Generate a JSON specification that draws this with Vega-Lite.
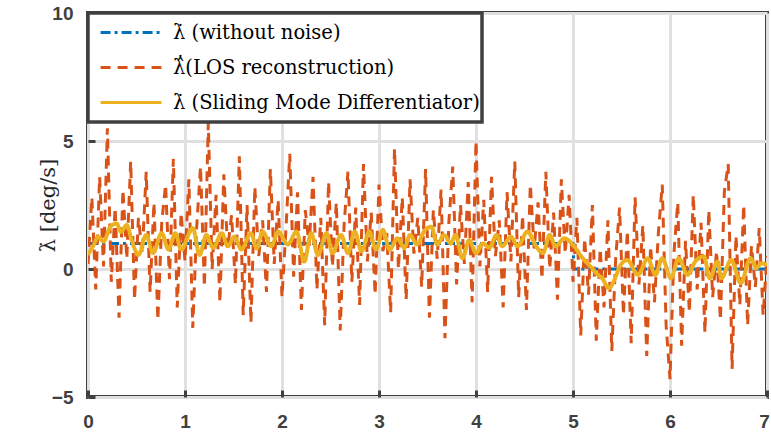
{
  "$schema": "https://vega.github.io/schema/vega-lite/v6.json",
  "width": 679,
  "height": 384,
  "autosize": "none",
  "padding": {"left": 88, "top": 13, "right": 4, "bottom": 42},
  "background": "white",
  "config": {
    "view": {"stroke": "#404040", "strokeWidth": 4},
    "axis": {
      "labelFont": "Liberation Sans",
      "labelFontWeight": "bold",
      "labelFontSize": 19,
      "labelColor": "#404040",
      "domain": false,
      "gridColor": "#e0e0e0",
      "gridWidth": 3,
      "gridOpacity": 1,
      "tickColor": "#404040",
      "tickWidth": 3,
      "tickSize": -7
    },
    "legend": {
      "orient": "top-left",
      "offset": 0,
      "labelFont": "DejaVu Serif",
      "labelFontSize": 19.5,
      "labelColor": "#000000",
      "labelLimit": 600,
      "symbolType": "stroke",
      "symbolSize": 3700,
      "symbolStrokeWidth": 3,
      "symbolOffset": 9,
      "clipHeight": 35,
      "strokeColor": "#404040",
      "strokeWidth": 3.5,
      "fillColor": "white",
      "padding": 2,
      "rowPadding": 0,
      "labelOffset": 10
    }
  },
  "datasets": {
    "blue": [{"t": 0, "v": 1}, {"t": 5.0, "v": 1}, {"t": 5.01, "v": 0}, {"t": 7, "v": 0}],
    "orange": [
      {"t":0,"v":0.2},{"t":0.04,"v":2.8},{"t":0.08,"v":-0.8},{"t":0.12,"v":3.6},{"t":0.16,"v":0.1},{"t":0.2,"v":5.5},{"t":0.24,"v":-0.5},{"t":0.28,"v":2.4},{"t":0.32,"v":-1.9},{"t":0.36,"v":3.1},{"t":0.4,"v":0.4},{"t":0.44,"v":4.2},{"t":0.48,"v":-1.2},{"t":0.52,"v":2.0},{"t":0.56,"v":0.6},{"t":0.6,"v":3.8},{"t":0.64,"v":-0.9},{"t":0.68,"v":2.6},{"t":0.72,"v":-2.0},{"t":0.76,"v":1.8},{"t":0.8,"v":3.3},{"t":0.84,"v":-0.4},{"t":0.88,"v":4.3},{"t":0.92,"v":-1.5},{"t":0.96,"v":2.2},
      {"t":1.0,"v":0.3},{"t":1.04,"v":3.5},{"t":1.08,"v":-2.3},{"t":1.12,"v":1.6},{"t":1.16,"v":4.0},{"t":1.2,"v":-0.7},{"t":1.24,"v":5.7},{"t":1.28,"v":0.0},{"t":1.32,"v":2.9},{"t":1.36,"v":-1.3},{"t":1.4,"v":3.7},{"t":1.44,"v":0.8},{"t":1.48,"v":2.1},{"t":1.52,"v":-0.6},{"t":1.56,"v":4.4},{"t":1.6,"v":-1.8},{"t":1.64,"v":2.5},{"t":1.68,"v":-2.1},{"t":1.72,"v":3.2},{"t":1.76,"v":0.5},{"t":1.8,"v":1.9},{"t":1.84,"v":-0.9},{"t":1.88,"v":3.9},{"t":1.92,"v":0.2},{"t":1.96,"v":2.7},
      {"t":2.0,"v":-1.1},{"t":2.04,"v":1.5},{"t":2.08,"v":4.5},{"t":2.12,"v":-0.3},{"t":2.16,"v":3.0},{"t":2.2,"v":-1.6},{"t":2.24,"v":2.3},{"t":2.28,"v":0.9},{"t":2.32,"v":3.6},{"t":2.36,"v":-0.8},{"t":2.4,"v":2.0},{"t":2.44,"v":-2.2},{"t":2.48,"v":3.4},{"t":2.52,"v":0.1},{"t":2.56,"v":2.6},{"t":2.6,"v":-2.4},{"t":2.64,"v":1.7},{"t":2.68,"v":3.8},{"t":2.72,"v":-0.5},{"t":2.76,"v":2.4},{"t":2.8,"v":-1.4},{"t":2.84,"v":4.1},{"t":2.88,"v":0.3},{"t":2.92,"v":2.2},{"t":2.96,"v":-1.0},
      {"t":3.0,"v":3.3},{"t":3.04,"v":0.7},{"t":3.08,"v":1.4},{"t":3.12,"v":-1.7},{"t":3.16,"v":4.7},{"t":3.2,"v":0.0},{"t":3.24,"v":2.8},{"t":3.28,"v":-1.2},{"t":3.32,"v":3.5},{"t":3.36,"v":0.6},{"t":3.4,"v":2.0},{"t":3.44,"v":-0.7},{"t":3.48,"v":3.9},{"t":3.52,"v":-1.9},{"t":3.56,"v":2.3},{"t":3.6,"v":0.4},{"t":3.64,"v":3.1},{"t":3.68,"v":-2.7},{"t":3.72,"v":1.8},{"t":3.76,"v":4.0},{"t":3.8,"v":-0.6},{"t":3.84,"v":2.5},{"t":3.88,"v":0.2},{"t":3.92,"v":3.4},{"t":3.96,"v":-1.3},
      {"t":4.0,"v":5.0},{"t":4.04,"v":0.1},{"t":4.08,"v":2.7},{"t":4.12,"v":-0.9},{"t":4.16,"v":3.6},{"t":4.2,"v":0.5},{"t":4.24,"v":1.9},{"t":4.28,"v":-1.5},{"t":4.32,"v":3.0},{"t":4.36,"v":0.3},{"t":4.4,"v":4.2},{"t":4.44,"v":-1.1},{"t":4.48,"v":2.1},{"t":4.52,"v":-1.6},{"t":4.56,"v":3.3},{"t":4.6,"v":0.8},{"t":4.64,"v":2.6},{"t":4.68,"v":-0.4},{"t":4.72,"v":3.8},{"t":4.76,"v":0.0},{"t":4.8,"v":2.2},{"t":4.84,"v":-1.2},{"t":4.88,"v":3.5},{"t":4.92,"v":0.6},{"t":4.96,"v":2.9},
      {"t":5.0,"v":-0.5},{"t":5.04,"v":2.0},{"t":5.08,"v":-2.6},{"t":5.12,"v":1.2},{"t":5.16,"v":-1.0},{"t":5.2,"v":2.5},{"t":5.24,"v":-2.8},{"t":5.28,"v":0.8},{"t":5.32,"v":-1.5},{"t":5.36,"v":1.9},{"t":5.4,"v":-3.2},{"t":5.44,"v":0.4},{"t":5.48,"v":2.4},{"t":5.52,"v":-1.8},{"t":5.56,"v":1.5},{"t":5.6,"v":-2.9},{"t":5.64,"v":2.8},{"t":5.68,"v":-0.6},{"t":5.72,"v":1.7},{"t":5.76,"v":-3.4},{"t":5.8,"v":0.9},{"t":5.84,"v":-1.3},{"t":5.88,"v":1.4},{"t":5.92,"v":3.3},{"t":5.96,"v":-2.2},
      {"t":6.0,"v":-4.3},{"t":6.04,"v":0.6},{"t":6.08,"v":2.6},{"t":6.12,"v":-3.0},{"t":6.16,"v":1.1},{"t":6.2,"v":-1.7},{"t":6.24,"v":2.9},{"t":6.28,"v":-0.8},{"t":6.32,"v":1.8},{"t":6.36,"v":-2.5},{"t":6.4,"v":2.3},{"t":6.44,"v":-1.1},{"t":6.48,"v":0.7},{"t":6.52,"v":-2.0},{"t":6.56,"v":3.0},{"t":6.6,"v":4.1},{"t":6.64,"v":-3.9},{"t":6.68,"v":1.3},{"t":6.72,"v":-1.4},{"t":6.76,"v":2.5},{"t":6.8,"v":-2.2},{"t":6.84,"v":0.9},{"t":6.88,"v":-0.7},{"t":6.92,"v":1.6},{"t":6.96,"v":-1.8},{"t":7.0,"v":0.5}
    ],
    "yellow": [
      {"t":0,"v":0.55},{"t":0.06,"v":0.95},{"t":0.106,"v":1.26},{"t":0.16,"v":1.07},{"t":0.23,"v":1.65},{"t":0.295,"v":1.78},{"t":0.34,"v":1.45},{"t":0.4,"v":1.72},{"t":0.45,"v":1.13},{"t":0.52,"v":0.55},{"t":0.6,"v":1.33},{"t":0.67,"v":0.62},{"t":0.76,"v":1.4},{"t":0.83,"v":0.76},{"t":0.9,"v":1.4},{"t":0.96,"v":0.76},{"t":1.08,"v":1.6},{"t":1.15,"v":0.55},{"t":1.22,"v":1.33},{"t":1.29,"v":0.83},{"t":1.38,"v":1.4},{"t":1.44,"v":0.89},{"t":1.51,"v":1.26},{"t":1.58,"v":0.76},{"t":1.68,"v":1.4},{"t":1.74,"v":0.8},{"t":1.8,"v":1.46},{"t":1.89,"v":0.89},{"t":1.96,"v":1.46},{"t":2.06,"v":0.96},{"t":2.15,"v":1.46},{"t":2.23,"v":0.29},{"t":2.3,"v":1.4},{"t":2.37,"v":0.55},{"t":2.46,"v":1.4},{"t":2.52,"v":0.62},{"t":2.61,"v":1.33},{"t":2.68,"v":0.62},{"t":2.75,"v":1.46},{"t":2.82,"v":0.69},{"t":2.9,"v":1.46},{"t":2.97,"v":0.76},{"t":3.04,"v":1.53},{"t":3.11,"v":0.76},{"t":3.19,"v":1.2},{"t":3.26,"v":0.83},{"t":3.32,"v":1.33},{"t":3.39,"v":0.96},{"t":3.47,"v":1.5},{"t":3.54,"v":1.65},{"t":3.6,"v":0.96},{"t":3.67,"v":1.33},{"t":3.74,"v":1.0},{"t":3.79,"v":1.33},{"t":3.86,"v":0.42},{"t":3.93,"v":1.13},{"t":4.0,"v":0.62},{"t":4.07,"v":1.0},{"t":4.14,"v":0.83},{"t":4.21,"v":1.33},{"t":4.27,"v":0.89},{"t":4.36,"v":1.26},{"t":4.43,"v":0.89},{"t":4.53,"v":1.46},{"t":4.62,"v":0.89},{"t":4.69,"v":0.62},{"t":4.76,"v":1.33},{"t":4.82,"v":0.89},{"t":4.91,"v":1.2},{"t":5.01,"v":0.89},{"t":5.1,"v":0.42},{"t":5.18,"v":0.1},{"t":5.25,"v":-0.2},{"t":5.3,"v":-0.36},{"t":5.37,"v":-0.75},{"t":5.44,"v":-0.3},{"t":5.48,"v":0.09},{"t":5.56,"v":0.35},{"t":5.67,"v":-0.23},{"t":5.77,"v":0.42},{"t":5.85,"v":-0.23},{"t":5.92,"v":0.42},{"t":6.01,"v":-0.36},{"t":6.09,"v":0.42},{"t":6.18,"v":-0.23},{"t":6.26,"v":0.29},{"t":6.35,"v":0.49},{"t":6.41,"v":-0.36},{"t":6.49,"v":0.29},{"t":6.53,"v":-0.36},{"t":6.63,"v":0.35},{"t":6.73,"v":-0.55},{"t":6.83,"v":0.42},{"t":6.89,"v":0.03},{"t":6.94,"v":0.22},{"t":7.0,"v":0.16}
    ]
  },
  "encoding": {
    "x": {"field": "t", "type": "quantitative", "scale": {"domain": [0, 7], "nice": false},
          "axis": {"values": [0,1,2,3,4,5,6,7], "title": null, "labelPadding": 22, "labelFlush": false, "labelOffset": {"expr": "datum.value == 7 ? -3 : 0"}}},
    "y": {"field": "v", "type": "quantitative", "scale": {"domain": [-5, 10], "nice": false},
          "axis": {"values": [-5,0,5,10], "title": "λ̇ [deg/s]", "titleFont": "DejaVu Serif", "titleFontSize": 21, "titleFontWeight": "normal", "titleColor": "#262626", "titlePadding": -7, "labelPadding": 22, "labelFlush": false}}
  },
  "layer": [
    {
      "data": {"name": "blue"},
      "mark": {"type": "line", "strokeWidth": 3, "clip": true},
      "encoding": {
        "color": {"datum": "λ̇ (without noise)", "type": "nominal",
                  "scale": {"domain": ["λ̇ (without noise)", "λ̂̇(LOS reconstruction)", "λ̇ (Sliding Mode Differentiator)"], "range": ["#0072BD", "#D95319", "#EDB120"]},
                  "legend": {"title": null}},
        "strokeDash": {"datum": "λ̇ (without noise)", "type": "nominal",
                  "scale": {"domain": ["λ̇ (without noise)", "λ̂̇(LOS reconstruction)", "λ̇ (Sliding Mode Differentiator)"], "range": [[10, 4, 3, 4], [10, 7], [1, 0]]},
                  "legend": {"title": null}}
      }
    },
    {
      "data": {"name": "orange"},
      "mark": {"type": "line", "strokeWidth": 3, "clip": true},
      "encoding": {
        "color": {"datum": "λ̂̇(LOS reconstruction)", "type": "nominal"},
        "strokeDash": {"datum": "λ̂̇(LOS reconstruction)", "type": "nominal"}
      }
    },
    {
      "data": {"name": "yellow"},
      "mark": {"type": "line", "strokeWidth": 4, "interpolate": "monotone", "clip": true},
      "encoding": {
        "color": {"datum": "λ̇ (Sliding Mode Differentiator)", "type": "nominal"},
        "strokeDash": {"datum": "λ̇ (Sliding Mode Differentiator)", "type": "nominal"}
      }
    }
  ]
}
